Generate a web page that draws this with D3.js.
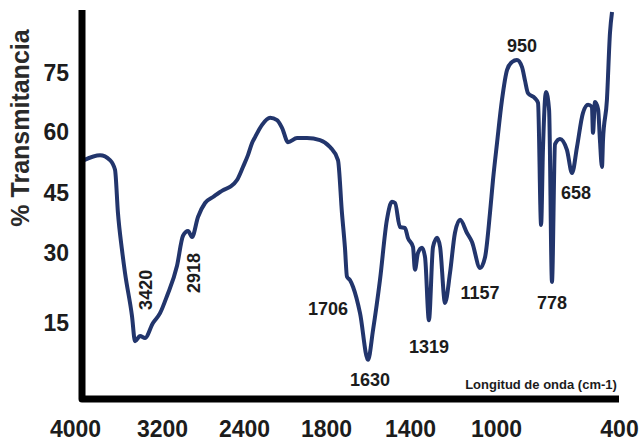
<!DOCTYPE html>
<html>
<head>
<meta charset="utf-8">
<script src="https://cdn.jsdelivr.net/npm/d3@7"></script>
<style>
body{margin:0;background:#fff}
svg{display:block}
text{font-family:"Liberation Sans",Arial,sans-serif;font-weight:bold;fill:#1c1c1c}
</style>
</head>
<body>
<svg id="chart"></svg>
<script>
// spectrum (cm-1, %T)
const wavenumber = [3917,3770,3678,3632,3605,3568,3540,3476,3448,3402,3356,3283,3218,3151,3054,2995,2946,2907,2849,2780,2702,2605,2537,2468,2410,2371,2341,2318,2268,2209,2158,2121,2078,2012,1939,1844,1781,1743,1724,1710,1700,1686,1671,1638,1600,1576,1543,1510,1486,1471,1448,1424,1410,1386,1377,1363,1344,1330,1312,1293,1274,1260,1237,1214,1191,1167,1135,1112,1074,1051,1028,1014,995,971,946,922,898,873,859,844,810,795,780,771,756,741,727,712,688,654,629,605,576,551,532,527,517,502,493,483,478,459,444,434];
const transmittance = [53.1,54.3,53.1,50.7,40,30.8,25.7,16.5,11.1,12.2,11.8,15,17.1,20.8,27.2,34.3,35.5,34,39,42.5,44,45.7,46.5,48.2,51.4,54.3,57.3,58.8,61.8,63.6,63,61,57.5,58.5,58.5,58,56.3,53.1,40,31.5,24.9,24.2,22.7,17.1,7.1,13.5,24.2,38.3,42.8,42.5,36.5,36.3,33.8,31.5,26.4,30,31.3,29.1,15.6,31.5,33.8,31.5,19.3,25.7,35,38.3,35,32.8,26.8,29.1,40,48.2,57.3,68.1,75.8,77.8,78.3,76.5,73.2,69.9,68.6,67.4,37,55.6,70.2,65.6,23.8,57,58.3,55.6,49.9,56.3,64.8,66.9,66.4,59.8,67.6,65.8,58,51.4,58,68.1,85.2,90.5];

const xTicks = [4000,3200,2400,1800,1400,1000,400];
const yTicks = [15,30,45,60,75];

// peak annotations: text, label anchor (cm-1, %T), rotated or not
const peakText = ["950","658","778","1157","1319","1630","1706","3420","2918"];
const peakWn   = [873,610,727,1074,1312,1590,1790,3356,2888];
const peakT    = [81.9,45,19.3,21.6,9.9,2.8,18,22.1,25.7];
const peakRot  = [false,false,false,false,false,false,false,true,true];

class draw_spectrum{
    constructor(config){
        this.config = config;
        this.init();
    }
    init(){
        let self = this;
        self.svg = d3.select(self.config.parent)
            .attr("width",self.config.width)
            .attr("height",self.config.height);
        // the printed scale is not linear, so map tick by tick
        self.x = d3.scaleLinear()
            .domain(xTicks)
            .range([75,162,244,326,410,496,619]);
        self.y = d3.scaleLinear()
            .domain(yTicks)
            .range([323,253,193,132,73]);
    }
    render(){
        let self = this;
        const ox = 82, oy = 399;

        self.svg.append("path")
            .datum(wavenumber.map((w,i)=>[w,transmittance[i]]))
            .attr("d",d3.line().curve(d3.curveMonotoneX).x(d=>self.x(d[0])).y(d=>self.y(d[1])))
            .style("fill","none")
            .style("stroke","#22356c")
            .style("stroke-width",4)
            .style("stroke-linejoin","round");

        // frame
        self.svg.append("path")
            .attr("d",`M${ox},10V${oy}H619`)
            .style("fill","none")
            .style("stroke","#000")
            .style("stroke-width",7)
            .style("stroke-linejoin","round");

        const xAxis = self.svg.append("g")
            .attr("transform",`translate(0,${oy})`)
            .call(d3.axisBottom(self.x).tickValues(xTicks).tickSize(0).tickPadding(22).tickFormat(d3.format("d")));
        xAxis.select(".domain").remove();
        xAxis.selectAll("text")
            .style("font-size","23px")
            .style("font-family",null);

        const yAxis = self.svg.append("g")
            .attr("transform",`translate(${ox},0)`)
            .call(d3.axisLeft(self.y).tickValues(yTicks).tickSize(0).tickPadding(13));
        yAxis.select(".domain").remove();
        yAxis.selectAll("text")
            .style("font-size","23px")
            .style("font-family",null);

        self.svg.append("text")
            .attr("transform","translate(29,128) rotate(-90)")
            .attr("text-anchor","middle")
            .style("font-size","25px")
            .style("fill","#2a2a2a")
            .text("% Transmitancia");

        self.svg.append("text")
            .attr("x",541)
            .attr("y",389)
            .attr("text-anchor","middle")
            .style("font-size","13px")
            .text("Longitud de onda (cm-1)");

        self.svg.selectAll(".peak")
            .data(peakText)
            .join("text")
            .attr("class","peak")
            .attr("text-anchor","middle")
            .attr("dy","0.36em")
            .attr("transform",(d,i)=>{
                const t = `translate(${self.x(peakWn[i])},${self.y(peakT[i])})`;
                return peakRot[i] ? t+" rotate(-90)" : t;
            })
            .style("font-size","18px")
            .text(d=>d);
    }
}

const chart = new draw_spectrum({parent:"#chart",width:642,height:446});
chart.render();
</script>
</body>
</html>
